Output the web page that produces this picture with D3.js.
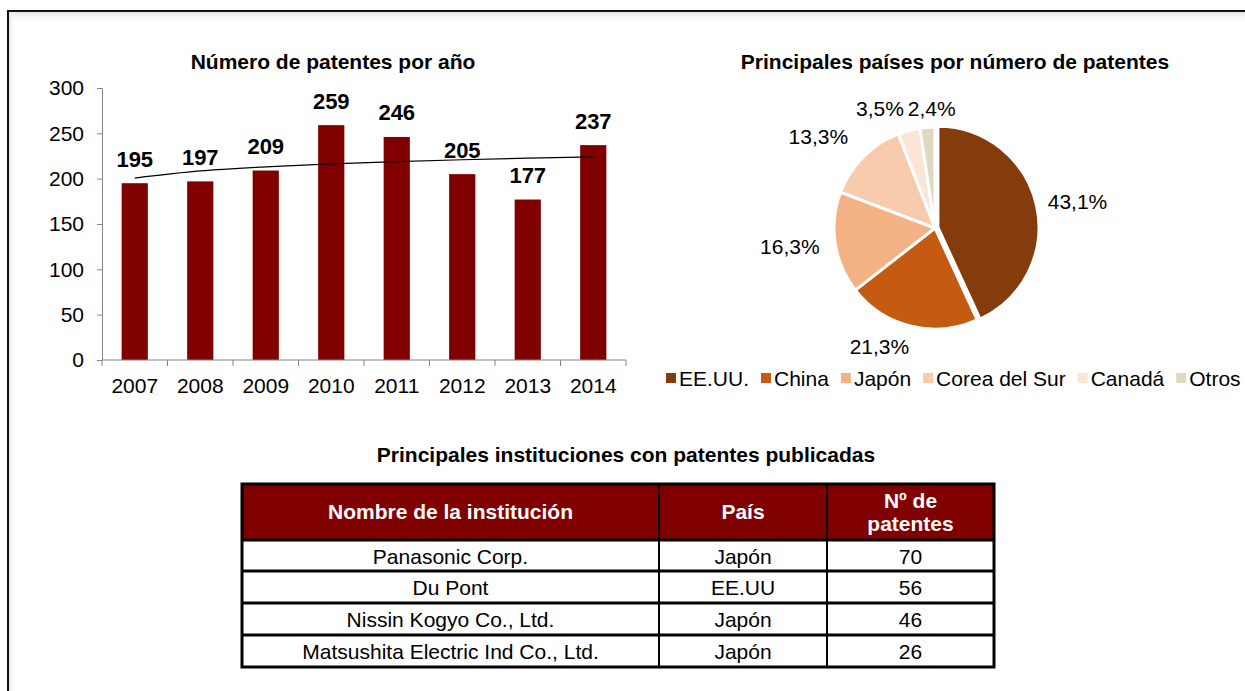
<!DOCTYPE html>
<meta charset="utf-8" />
<script src="https://d3js.org/d3.v7.min.js"></script>
<style>
  body { margin: 0; background: #fff; }
  text { font-family: 'Liberation Sans', Arial, sans-serif; }
</style>
<div id="chart"></div>
<script>
  // --- data ---
  const years = ['2007', '2008', '2009', '2010', '2011', '2012', '2013', '2014'];
  const patents = [195, 197, 209, 259, 246, 205, 177, 237];
  const yTicks = [0, 50, 100, 150, 200, 250, 300];

  const countries = ['EE.UU.', 'China', 'Japón', 'Corea del Sur', 'Canadá', 'Otros'];
  const countryShare = [43.1, 21.3, 16.3, 13.3, 3.5, 2.4];

  const tableHeader = ['Nombre de la institución', 'País', 'Nº de|patentes'];
  const institutions = ['Panasonic Corp.', 'Du Pont', 'Nissin Kogyo Co., Ltd.', 'Matsushita Electric Ind Co., Ltd.'];
  const instCountry = ['Japón', 'EE.UU', 'Japón', 'Japón'];
  const instPatents = [70, 56, 46, 26];

  // --- styles ---
  const barColor = '#800000';
  const axisColor = '#868686';
  const pieColors = ['#843c0c', '#c55a11', '#f4b183', '#f8cbad', '#fbe5d6', '#ddd9c3'];
  const pieLabelNudge = [[4, -1], [-22, 2], [-5, 1], [-16, -7], [-20, -3], [7, 0]];
  const FS = 21;

  const W = 1245, H = 691;
  const svg = d3.select('#chart').append('svg').attr('width', W).attr('height', H);

  // frame with a soft inner shadow
  const defs = svg.append('defs');
  const gTop = defs.append('linearGradient').attr('id', 'shTop').attr('x1', 0).attr('y1', 0).attr('x2', 0).attr('y2', 1);
  gTop.append('stop').attr('offset', 0).attr('stop-color', '#e6e6e6');
  gTop.append('stop').attr('offset', 1).attr('stop-color', '#fff').attr('stop-opacity', 0);
  const gLeft = defs.append('linearGradient').attr('id', 'shLeft').attr('x1', 0).attr('y1', 0).attr('x2', 1).attr('y2', 0);
  gLeft.append('stop').attr('offset', 0).attr('stop-color', '#e6e6e6');
  gLeft.append('stop').attr('offset', 1).attr('stop-color', '#fff').attr('stop-opacity', 0);
  svg.append('rect').attr('x', 9).attr('y', 12).attr('width', W).attr('height', 12).attr('fill', 'url(#shTop)');
  svg.append('rect').attr('x', 9).attr('y', 12).attr('width', 7).attr('height', H).attr('fill', 'url(#shLeft)');
  svg.append('rect').attr('x', 8).attr('y', 11).attr('width', W + 10).attr('height', H + 10)
    .attr('fill', 'none').attr('stroke', '#111').attr('stroke-width', 2);

  // ===== bar chart =====
  const x = d3.scaleBand().domain(years).range([102, 626]).paddingInner(0.6).paddingOuter(0.3);
  const y = d3.scaleLinear().domain([0, 300]).range([360, 88]);

  svg.append('text').attr('x', 333).attr('y', 69).attr('text-anchor', 'middle')
    .attr('font-size', FS).attr('font-weight', 'bold').text('Número de patentes por año');

  const yAxis = svg.append('g').attr('transform', 'translate(102,0)')
    .call(d3.axisLeft(y).tickValues(yTicks).tickSize(5).tickPadding(13));
  yAxis.select('.domain').attr('stroke', axisColor);
  yAxis.selectAll('.tick line').attr('stroke', axisColor);
  yAxis.selectAll('.tick text').attr('font-size', FS).attr('fill', '#000')
    .attr('font-family', "'Liberation Sans', Arial, sans-serif");

  svg.append('g').selectAll('rect').data(patents).join('rect')
    .attr('x', (d, i) => x(years[i]))
    .attr('y', (d) => y(d))
    .attr('width', x.bandwidth())
    .attr('height', (d) => y(0) - y(d))
    .attr('fill', barColor);

  // x axis with ticks between categories
  const xAxis = svg.append('g').attr('transform', 'translate(0,360)');
  xAxis.append('line').attr('x1', x.range()[0]).attr('x2', x.range()[1]).attr('stroke', axisColor);
  xAxis.selectAll('.tk').data(d3.range(years.length + 1)).join('line')
    .attr('x1', (i) => x.range()[0] + i * x.step())
    .attr('x2', (i) => x.range()[0] + i * x.step())
    .attr('y1', 0).attr('y2', 6).attr('stroke', axisColor);
  xAxis.selectAll('text').data(years).join('text')
    .attr('x', (d) => x(d) + x.bandwidth() / 2).attr('y', 33)
    .attr('text-anchor', 'middle').attr('font-size', FS).text((d) => d);

  // logarithmic trendline fitted to the bars
  const lx = patents.map((d, i) => Math.log(i + 1));
  const mx = d3.mean(lx), my = d3.mean(patents);
  const slope = d3.sum(lx, (v, i) => (v - mx) * (patents[i] - my)) / d3.sum(lx, (v) => (v - mx) * (v - mx));
  const trend = lx.map((v) => my + slope * (v - mx));
  svg.append('path').datum(trend)
    .attr('d', d3.line().x((d, i) => x(years[i]) + x.bandwidth() / 2).y((d) => y(d)).curve(d3.curveMonotoneX))
    .attr('fill', 'none').attr('stroke', '#000').attr('stroke-width', 1.2);

  svg.append('g').selectAll('text').data(patents).join('text')
    .attr('x', (d, i) => x(years[i]) + x.bandwidth() / 2)
    .attr('y', (d) => y(d) - 16.5)
    .attr('text-anchor', 'middle').attr('font-size', 22).attr('font-weight', 'bold')
    .text((d) => d);

  // ===== pie chart =====
  const cx = 935, cy = 228, r = 101;
  svg.append('text').attr('x', 955).attr('y', 69).attr('text-anchor', 'middle')
    .attr('font-size', FS).attr('font-weight', 'bold').text('Principales países por número de patentes');

  const pie = d3.pie().sort(null).value((d) => d)(countryShare);
  const arc = d3.arc().innerRadius(0).outerRadius(r);
  const pg = svg.append('g').attr('transform', `translate(${cx},${cy})`);
  pg.selectAll('path').data(pie).join('path')
    .attr('d', arc)
    .attr('transform', (d, i) => {
      if (i !== 0) return null;
      const a = (d.startAngle + d.endAngle) / 2;
      return `translate(${Math.sin(a) * 3},${-Math.cos(a) * 3})`;
    })
    .attr('fill', (d, i) => pieColors[i])
    .attr('stroke', '#fff').attr('stroke-width', 3).attr('stroke-linejoin', 'round');

  const fmt = (v) => d3.format('.1f')(v).replace('.', ',') + '%';
  pg.selectAll('text').data(pie).join('text')
    .attr('font-size', FS).attr('text-anchor', 'middle').attr('dy', '0.35em')
    .text((d) => fmt(d.data))
    .each(function (d, i) {
      const a = (d.startAngle + d.endAngle) / 2;
      const w = this.getComputedTextLength();
      const R = 112;
      const px = Math.sin(a) * R + Math.sin(a) * w / 2 + pieLabelNudge[i][0];
      const py = -Math.cos(a) * R - Math.cos(a) * 8 + pieLabelNudge[i][1];
      d3.select(this).attr('x', px).attr('y', py);
    });

  // legend
  let lxPos = 666;
  const lg = svg.append('g');
  countries.forEach((c, i) => {
    lg.append('rect').attr('x', lxPos).attr('y', 373).attr('width', 10).attr('height', 10).attr('fill', pieColors[i]);
    const t = lg.append('text').attr('x', lxPos + 13).attr('y', 386).attr('font-size', FS).text(c);
    lxPos += 13 + t.node().getComputedTextLength() + 12;
  });

  // ===== table =====
  svg.append('text').attr('x', 626).attr('y', 462).attr('text-anchor', 'middle')
    .attr('font-size', FS).attr('font-weight', 'bold').text('Principales instituciones con patentes publicadas');

  const colX = [242, 659, 827, 994];
  const rowY = [484, 540, 571, 603, 635, 667];
  const tg = svg.append('g');
  tg.append('rect').attr('x', colX[0]).attr('y', rowY[0]).attr('width', colX[3] - colX[0])
    .attr('height', rowY[1] - rowY[0]).attr('fill', barColor);

  tableHeader.forEach((h, j) => {
    const mid = (colX[j] + colX[j + 1]) / 2;
    const lines = h.split('|');
    lines.forEach((ln, k) => {
      tg.append('text').attr('x', mid)
        .attr('y', (rowY[0] + rowY[1]) / 2 + (k - (lines.length - 1) / 2) * 23)
        .attr('dy', '0.35em').attr('text-anchor', 'middle')
        .attr('font-size', FS).attr('font-weight', 'bold').attr('fill', '#fff').text(ln);
    });
  });

  const rows = institutions.map((d, i) => [d, instCountry[i], instPatents[i]]);
  rows.forEach((row, i) => {
    row.forEach((v, j) => {
      tg.append('text').attr('x', (colX[j] + colX[j + 1]) / 2)
        .attr('y', (rowY[i + 1] + rowY[i + 2]) / 2 + 1).attr('dy', '0.35em')
        .attr('text-anchor', 'middle').attr('font-size', FS).text(v);
    });
  });

  // grid lines
  rowY.slice(1, -1).forEach((yy) => {
    tg.append('line').attr('x1', colX[0]).attr('x2', colX[3]).attr('y1', yy).attr('y2', yy)
      .attr('stroke', '#000').attr('stroke-width', 3);
  });
  colX.slice(1, -1).forEach((xx) => {
    tg.append('line').attr('x1', xx).attr('x2', xx).attr('y1', rowY[0]).attr('y2', rowY[5])
      .attr('stroke', '#000').attr('stroke-width', 2);
  });
  tg.append('rect').attr('x', colX[0]).attr('y', rowY[0]).attr('width', colX[3] - colX[0])
    .attr('height', rowY[5] - rowY[0]).attr('fill', 'none').attr('stroke', '#000').attr('stroke-width', 3);
</script>
